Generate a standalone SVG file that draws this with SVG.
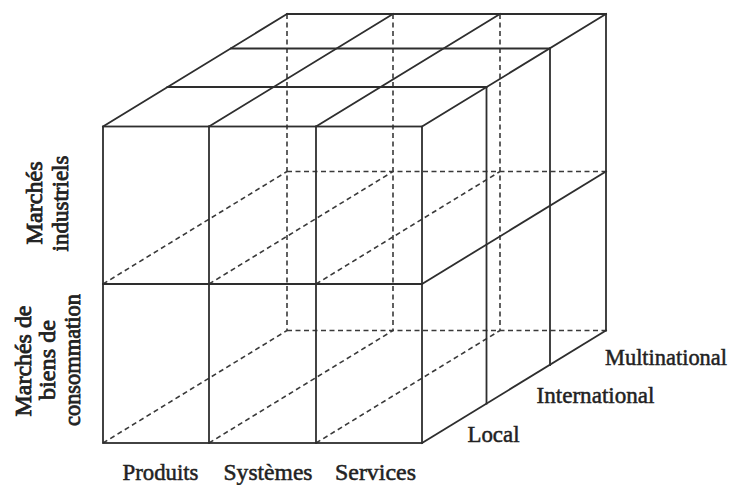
<svg xmlns="http://www.w3.org/2000/svg" width="734" height="485" viewBox="0 0 734 485">
  <style>
    .edge { stroke: #2e2e2e; stroke-width: 1.8; fill: none; stroke-linecap: square; }
    .hidden { stroke: #3a3a3a; stroke-width: 1.6; fill: none; stroke-dasharray: 5 3.5; }
    .lbl { font-family: "Liberation Serif", "Times New Roman", serif; font-size: 23px; fill: #222; stroke: #222; stroke-width: 0.5; }
    .lbl.side { stroke-width: 0.8; }
  </style>
  <rect width="734" height="485" fill="#ffffff"/>

  <!-- hidden edges: back face, middle and bottom planes -->
  <g id="hidden-edges">
    <line class="hidden" x1="287" y1="14" x2="287" y2="330.5"/>
    <line class="hidden" x1="393" y1="14" x2="393" y2="330.5"/>
    <line class="hidden" x1="500" y1="14" x2="500" y2="330.5"/>
    <line class="hidden" x1="287" y1="171.5" x2="606" y2="171.5"/>
    <line class="hidden" x1="287" y1="330.5" x2="606" y2="330.5"/>
    <line class="hidden" x1="103" y1="284" x2="287" y2="171.5"/>
    <line class="hidden" x1="209" y1="284" x2="393" y2="171.5"/>
    <line class="hidden" x1="316" y1="284" x2="500" y2="171.5"/>
    <line class="hidden" x1="103" y1="443" x2="287" y2="330.5"/>
    <line class="hidden" x1="209" y1="443" x2="393" y2="330.5"/>
    <line class="hidden" x1="316" y1="443" x2="500" y2="330.5"/>
  </g>

  <!-- front face: products x markets -->
  <g id="front-face">
    <rect class="edge" x="103" y="126.5" width="319" height="316.5"/>
    <line class="edge" x1="209" y1="126.5" x2="209" y2="443"/>
    <line class="edge" x1="316" y1="126.5" x2="316" y2="443"/>
    <line class="edge" x1="103" y1="284" x2="422" y2="284"/>
  </g>

  <!-- top face -->
  <g id="top-face">
    <line class="edge" x1="103" y1="126.5" x2="287" y2="14"/>
    <line class="edge" x1="209" y1="126.5" x2="393" y2="14"/>
    <line class="edge" x1="316" y1="126.5" x2="500" y2="14"/>
    <line class="edge" x1="422" y1="126.5" x2="606" y2="14"/>
    <line class="edge" x1="167.5" y1="87" x2="486.5" y2="87"/>
    <line class="edge" x1="231" y1="48.5" x2="550" y2="48.5"/>
    <line class="edge" x1="287" y1="14" x2="606" y2="14"/>
  </g>

  <!-- right face: geographic scope -->
  <g id="right-face">
    <line class="edge" x1="486.5" y1="87" x2="486.5" y2="403.5"/>
    <line class="edge" x1="550" y1="48.5" x2="550" y2="365"/>
    <line class="edge" x1="606" y1="14" x2="606" y2="330.5"/>
    <line class="edge" x1="422" y1="284" x2="606" y2="171.5"/>
    <line class="edge" x1="422" y1="443" x2="606" y2="330.5"/>
  </g>

  <!-- axis labels -->
  <g id="labels-offer">
    <text class="lbl" x="122.5" y="480" textLength="76" lengthAdjust="spacingAndGlyphs">Produits</text>
    <text class="lbl" x="223.5" y="480" textLength="89" lengthAdjust="spacingAndGlyphs">Systèmes</text>
    <text class="lbl" x="335" y="480" textLength="81" lengthAdjust="spacingAndGlyphs">Services</text>
  </g>
  <g id="labels-scope">
    <text class="lbl" x="605" y="365" textLength="122" lengthAdjust="spacingAndGlyphs">Multinational</text>
    <text class="lbl" x="536.5" y="403" textLength="118" lengthAdjust="spacingAndGlyphs">International</text>
    <text class="lbl" x="467.5" y="441.5" textLength="52" lengthAdjust="spacingAndGlyphs">Local</text>
  </g>
  <g id="labels-markets" text-anchor="middle">
    <text class="lbl side" transform="translate(41.5,203) rotate(-90)" textLength="83" lengthAdjust="spacingAndGlyphs">Marchés</text>
    <text class="lbl side" transform="translate(68,203.5) rotate(-90)" textLength="96" lengthAdjust="spacingAndGlyphs">industriels</text>
    <text class="lbl side" transform="translate(31,361) rotate(-90)" textLength="111" lengthAdjust="spacingAndGlyphs">Marchés de</text>
    <text class="lbl side" transform="translate(55,360) rotate(-90)" textLength="80" lengthAdjust="spacingAndGlyphs">biens de</text>
    <text class="lbl side" transform="translate(80,360) rotate(-90)" textLength="132" lengthAdjust="spacingAndGlyphs">consommation</text>
  </g>
</svg>
